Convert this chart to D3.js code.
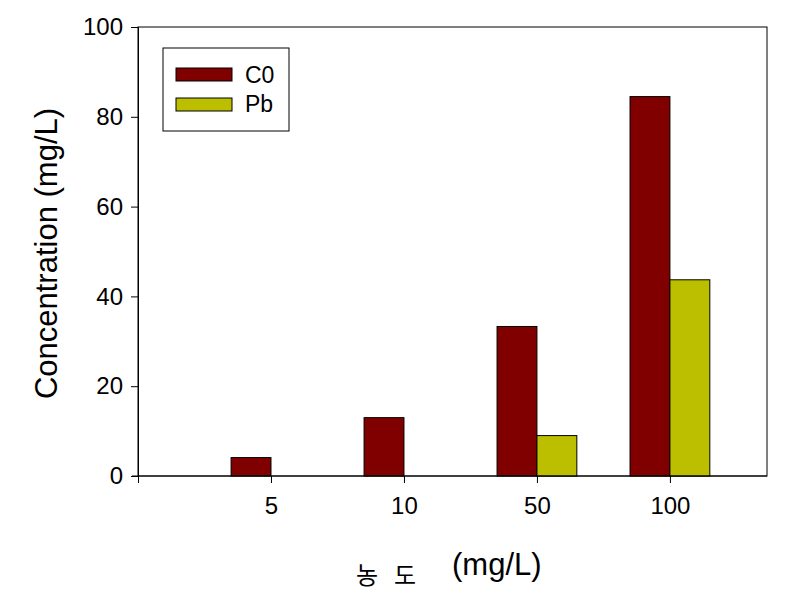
<!DOCTYPE html>
<html>
<head>
<meta charset="utf-8">
<script src="https://cdn.jsdelivr.net/npm/d3@7"></script>
<style>
body { margin: 0; background: #fff; }
text { font-family: "Liberation Sans", Arial, sans-serif; fill: #000; }
</style>
</head>
<body>
<svg id="chart" width="793" height="598"></svg>
<script>
var categories = ["5", "10", "50", "100"];
var c0Values = [4.1, 13.0, 33.3, 84.5];
var pbValues = [0, 0, 9.0, 43.7];
var yTicks = [0, 20, 40, 60, 80, 100];
var seriesNames = ["C0", "Pb"];
var colors = ["#800000", "#bcbf00"];

var svg = d3.select("#chart");

var mLeft = 138, mRight = 767, mTop = 27, mBottom = 476;

// x is a linear scale, categories sit at 1..4
var xScale = d3.scaleLinear()
	.domain([0, 4.73])
	.range([mLeft, mRight]);

var yScale = d3.scaleLinear()
	.domain([0, 100])
	.range([mBottom, mTop]);

var barW = xScale(0.3) - xScale(0);

// frame
svg.append("rect")
	.attr("x", mLeft)
	.attr("y", mTop)
	.attr("width", mRight - mLeft)
	.attr("height", mBottom - mTop)
	.attr("fill", "none")
	.attr("stroke", "#000")
	.attr("stroke-width", 1);

// bars (zero values are not drawn)
var series = [c0Values, pbValues];
series.forEach(function(vals, s) {
	var pts = vals.map(function(v, i) { return { i: i, v: v }; })
		.filter(function(d) { return d.v > 0; });
	svg.selectAll("rect.s" + s)
		.data(pts)
		.enter()
		.append("rect")
		.attr("class", "s" + s)
		.attr("x", function(d) { return xScale(d.i + 1) - barW + s * barW; })
		.attr("y", function(d) { return yScale(d.v); })
		.attr("width", barW)
		.attr("height", function(d) { return mBottom - yScale(d.v); })
		.attr("fill", colors[s])
		.attr("stroke", "#000")
		.attr("stroke-width", 1);
});

// Y axis
var yAxis = d3.axisLeft(yScale)
	.tickValues(yTicks)
	.tickSize(7)
	.tickPadding(8);

var gy = svg.append("g")
	.attr("transform", "translate(" + mLeft + ",0)")
	.call(yAxis);
gy.selectAll("text").style("font-size", "24px");

// X axis
var xAxis = d3.axisBottom(xScale)
	.tickValues([0, 1, 2, 3, 4])
	.tickFormat(function(d) { return d === 0 ? "" : categories[d - 1]; })
	.tickSize(7)
	.tickPadding(14);

var gx = svg.append("g")
	.attr("transform", "translate(0," + mBottom + ")")
	.call(xAxis);
gx.selectAll("text").style("font-size", "24px");
gx.select(".domain").attr("d", "M" + (mLeft - 6) + ",0H" + mRight);

svg.selectAll(".domain, .tick line").attr("stroke", "#000");

// Axis titles
svg.append("text")
	.attr("transform", "translate(57," + ((mTop + mBottom) / 2 + 2) + ")rotate(-90)")
	.style("text-anchor", "middle")
	.style("font-size", "31px")
	.text("Concentration (mg/L)");

svg.append("text")
	.attr("x", 356)
	.attr("y", 584)
	.style("font-family", "'Noto Sans CJK KR', sans-serif")
	.style("font-size", "24px")
	.style("letter-spacing", "16px")
	.text("농도");

svg.append("text")
	.attr("x", 452)
	.attr("y", 575)
	.style("font-size", "31px")
	.text("(mg/L)");

// Legend
var legend = svg.append("g");
legend.append("rect")
	.attr("x", 163)
	.attr("y", 48)
	.attr("width", 126)
	.attr("height", 83)
	.attr("fill", "#fff")
	.attr("stroke", "#000");

seriesNames.forEach(function(name, i) {
	legend.append("rect")
		.attr("x", 176)
		.attr("y", 68 + i * 30)
		.attr("width", 56)
		.attr("height", 13)
		.attr("fill", colors[i])
		.attr("stroke", "#000");
	legend.append("text")
		.attr("x", 245)
		.attr("y", 83 + i * 29)
		.style("font-size", "23px")
		.text(name);
});
</script>
</body>
</html>
